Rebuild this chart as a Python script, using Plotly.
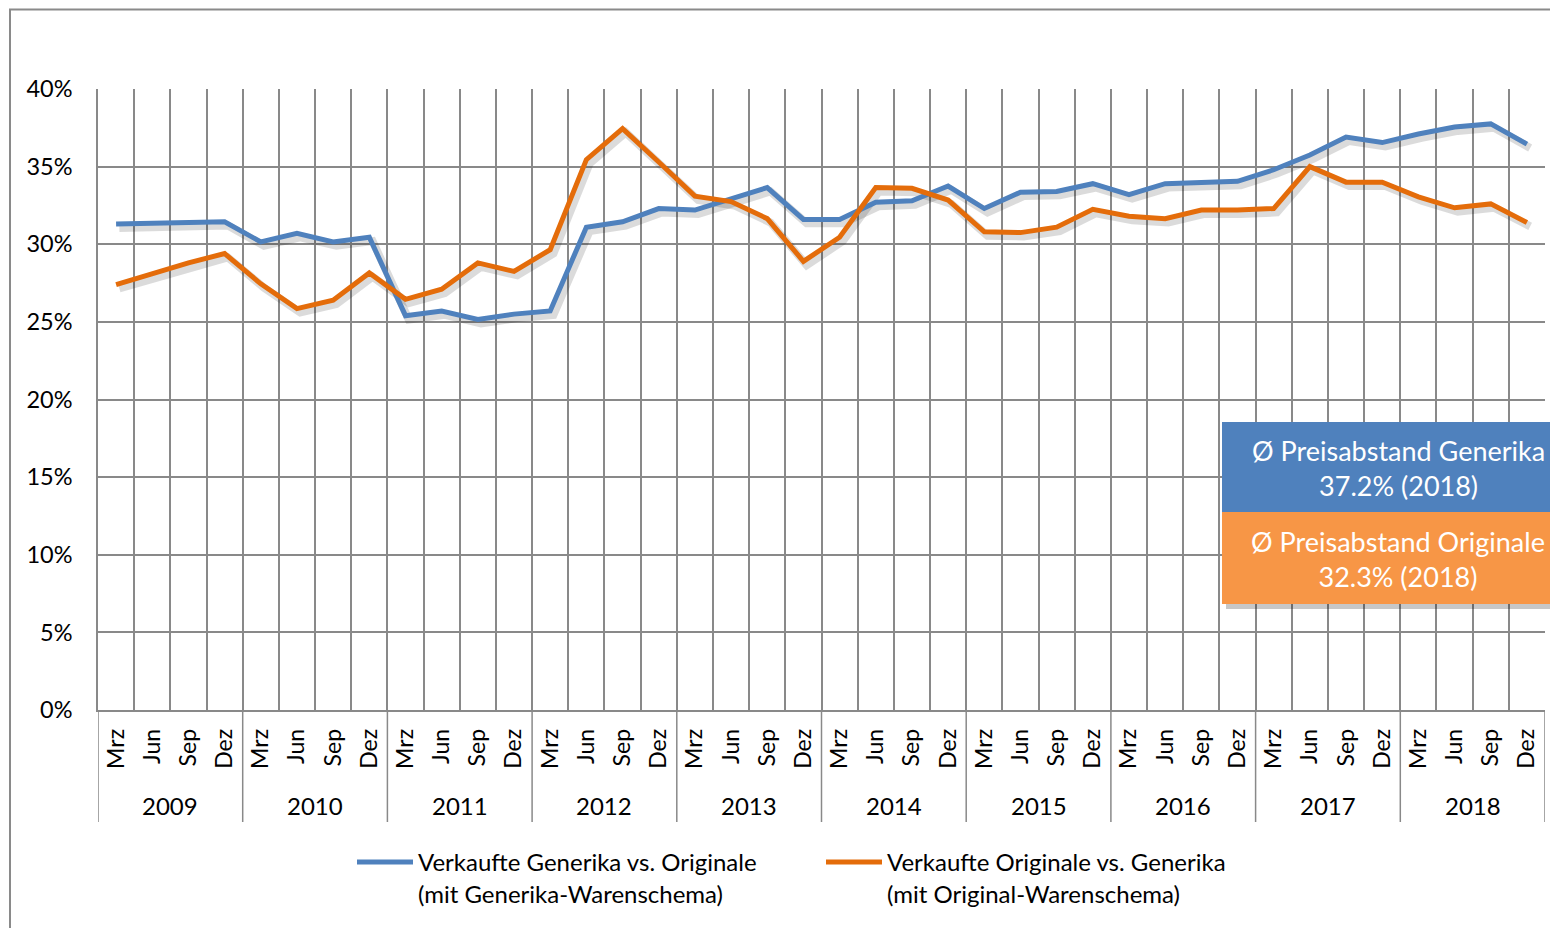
import plotly.graph_objects as go

years = ["2009", "2010", "2011", "2012", "2013", "2014", "2015", "2016", "2017", "2018"]
quarters = ["Mrz", "Jun", "Sep", "Dez"]

generika = [31.3, 31.35, 31.4, 31.45, 30.15, 30.7, 30.15, 30.45,
            25.4, 25.7, 25.15, 25.5, 25.7, 31.1, 31.45, 32.3,
            32.2, 32.95, 33.65, 31.6, 31.6, 32.7, 32.8, 33.75,
            32.3, 33.35, 33.4, 33.9, 33.2, 33.9, 34.0, 34.05,
            34.8, 35.75, 36.9, 36.55, 37.1, 37.55, 37.75, 36.45]
originale = [27.4, 28.1, 28.8, 29.4, 27.45, 25.85, 26.4, 28.15,
             26.45, 27.1, 28.8, 28.25, 29.65, 35.45, 37.45, 35.3,
             33.1, 32.75, 31.65, 28.9, 30.45, 33.65, 33.6, 32.85,
             30.8, 30.75, 31.1, 32.25, 31.8, 31.65, 32.2, 32.2,
             32.3, 35.0, 34.0, 34.0, 33.05, 32.35, 32.6, 31.4]

name_gen = "Verkaufte Generika vs. Originale<br>(mit Generika-Warenschema)"
name_orig = "Verkaufte Originale vs. Generika<br>(mit Original-Warenschema)"
box_gen = "Ø Preisabstand Generika<br>37.2% (2018)"
box_orig = "Ø Preisabstand Originale<br>32.3% (2018)"

FONT = "Lato"
n = len(generika)
labels = [quarters[i % 4] for i in range(n)]
xs = [i + 0.5 for i in range(n)]

fig = go.Figure()
# soft shadows
for vals in (generika, originale):
    fig.add_trace(go.Scatter(x=[v + 0.09 for v in xs], y=[v - 0.25 for v in vals],
                             mode="lines", line=dict(color="rgba(0,0,0,0.14)", width=8),
                             showlegend=False, hoverinfo="skip"))
fig.add_trace(go.Scatter(x=xs, y=generika, mode="lines", name=name_gen,
                         line=dict(color="#4F81BD", width=5)))
fig.add_trace(go.Scatter(x=xs, y=originale, mode="lines", name=name_orig,
                         line=dict(color="#E46C0A", width=5)))

OFF = 8  # page body margin
W, H = 1558 - OFF, 928 - OFF
L, T = 98 - OFF, 89 - OFF
R = W - (1545 - OFF)
B = H - (710 - OFF)
pw, ph = W - L - R, H - T - B

def px_x(p):
    return (p - OFF - L) / pw

def px_y(p):
    return (H - B - (p - OFF)) / ph

GRID = "#898989"
shapes = []
for k in range(0, n + 1, 4):
    shapes.append(dict(type="line", xref="x", yref="paper", x0=k, x1=k,
                       y0=0, y1=px_y(822), line=dict(color=GRID, width=1.5)))
bx0, bx1 = px_x(1222), px_x(1574)
shapes.append(dict(type="rect", xref="paper", yref="paper", x0=px_x(1226), x1=px_x(1578),
                   y0=px_y(609), y1=px_y(426), fillcolor="rgba(0,0,0,0.22)", line=dict(width=0), layer="above"))
shapes.append(dict(type="rect", xref="paper", yref="paper", x0=bx0, x1=bx1,
                   y0=px_y(512), y1=px_y(422), fillcolor="#4F81BD", line=dict(width=0), layer="above"))
shapes.append(dict(type="rect", xref="paper", yref="paper", x0=bx0, x1=bx1,
                   y0=px_y(604), y1=px_y(512), fillcolor="#F79646", line=dict(width=0), layer="above"))
# outer chart border: left and top edges only visible
shapes.append(dict(type="line", xref="paper", yref="paper", x0=px_x(10), x1=px_x(10),
                   y0=px_y(940), y1=px_y(9), line=dict(color="#8a8a8a", width=2)))
shapes.append(dict(type="line", xref="paper", yref="paper", x0=px_x(9), x1=px_x(1600),
                   y0=px_y(9.5), y1=px_y(9.5), line=dict(color="#8a8a8a", width=2)))

annotations = []
for j, yr in enumerate(years):
    annotations.append(dict(x=4 * j + 2, y=px_y(805), xref="x", yref="paper", text=yr,
                            showarrow=False, font=dict(family=FONT, size=24, color="#000000"),
                            xanchor="center", yanchor="middle"))
annotations.append(dict(x=px_x(1398), y=px_y(468), xref="paper", yref="paper", text=box_gen,
                        showarrow=False, font=dict(family=FONT, size=27, color="white"),
                        xanchor="center", yanchor="middle", align="center"))
annotations.append(dict(x=px_x(1398), y=px_y(559), xref="paper", yref="paper", text=box_orig,
                        showarrow=False, font=dict(family=FONT, size=27, color="white"),
                        xanchor="center", yanchor="middle", align="center"))

fig.update_layout(
    width=W, height=H,
    margin=dict(l=L, r=R, t=T, b=B),
    paper_bgcolor="white", plot_bgcolor="white",
    font=dict(family=FONT, size=23, color="#000000"),
    showlegend=True,
    legend=dict(orientation="h", x=px_x(352), xanchor="left", y=px_y(840), yanchor="top",
                valign="top", entrywidth=398, entrywidthmode="pixels",
                font=dict(family=FONT, size=24, color="#000000"), itemwidth=56),
    shapes=shapes, annotations=annotations,
    xaxis=dict(range=[0, n], tickmode="array", tickvals=xs, ticktext=labels,
               tickangle=-90, showgrid=False, zeroline=False, ticks="",
               ticklabelstandoff=8, tickfont=dict(family=FONT, size=23),
               showline=True, linecolor=GRID, linewidth=1.5,
               minor=dict(tick0=0, dtick=1, showgrid=True, gridcolor=GRID, gridwidth=1.5)),
    yaxis=dict(range=[0, 40], dtick=5, ticksuffix="%", showgrid=True,
               gridcolor=GRID, gridwidth=1.5, zeroline=False, ticks="",
               ticklabelstandoff=19, tickfont=dict(family=FONT, size=23.5),
               showline=True, linecolor=GRID, linewidth=1.5),
)

fig.write_html("out.html")
